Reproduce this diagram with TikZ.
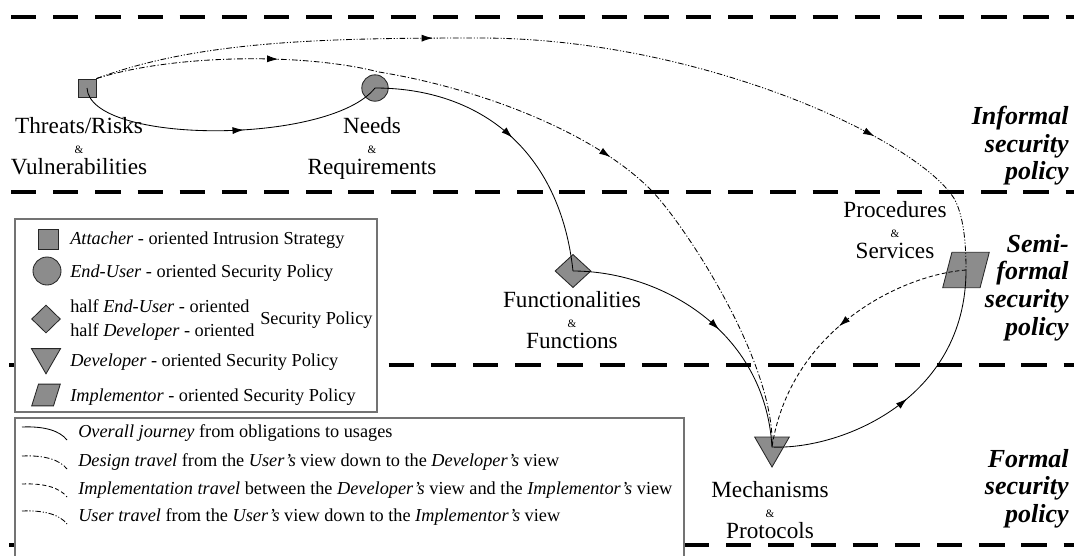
\documentclass[tikz,border=0pt]{standalone}
\usepackage{fontspec}
\setmainfont{Liberation Serif}
\usetikzlibrary{positioning, arrows.meta, shapes.geometric, decorations.markings}
\definecolor{nodegray}{RGB}{140,140,140}

\begin{document}
\begin{tikzpicture}[
                x=0.025cm, y=-0.025cm,
                divider/.style={line width=3.5pt, dash pattern=on 18pt off 12pt},
                shp/.style={draw=black!85, fill=nodegray, line width=0.6pt, inner sep=0pt},
                tri/.style={shp, regular polygon, regular polygon sides=3, shape border rotate=180},
                slot/.style={inner sep=0pt, minimum width=#1},
                lbl/.style={align=center, inner sep=0pt, anchor=north, font=\fontsize{16.5}{14.5}\selectfont},
                lvl/.style={align=right, inner sep=0pt, anchor=north east, font=\bfseries\itshape\fontsize{18.5}{19.6}\selectfont},
                leg/.style={anchor=west, inner sep=0pt, font=\fontsize{13}{17}\selectfont},
                legbox/.style={draw=black!55, line width=0.8pt, fill=white},
                journey/.style={line width=0.6pt},
                design/.style={line width=0.6pt, dash pattern=on 4pt off 1.5pt on 0.8pt off 1.5pt},
                impl/.style={line width=0.6pt, dash pattern=on 3pt off 1.8pt},
                usertr/.style={line width=0.6pt, dash pattern=on 4pt off 1.3pt on 0.8pt off 1.3pt on 0.8pt off 1.3pt},
                midtip/.style={decoration={markings, mark=at position #1 with {\arrow{Latex[length=8pt,width=5pt]}}}, postaction={decorate}},
                twotips/.style 2 args={decoration={markings,
                    mark=at position #1 with {\arrow{Latex[length=8pt,width=5pt]}},
                    mark=at position #2 with {\arrow{Latex[length=8pt,width=5pt]}}}, postaction={decorate}}
            ]
            \useasboundingbox (0,0) rectangle (1074,555);
            \clip (0,0) rectangle (1074,555);
            \draw[divider] (11,17) -- (1074,17);
            \draw[divider] (11,192) -- (1074,192);
            \draw[divider] (9,365) -- (1074,365);
            \draw[divider] (9,545) -- (1074,545);
            \draw[legbox] (15,219) rectangle (377,412);
            \draw[legbox] (15,418) rectangle (684,570);

            \node[shp, rectangle, minimum size=0.45cm] (thr) at (87,88) {};
            \node[shp, circle, minimum size=0.66cm]    (need) at (375,88) {};
            \node[shp, diamond, minimum width=0.9cm, minimum height=0.83cm] (func) at (573,271) {};
            \node[tri, minimum size=1cm]                (mech) at (772,447) {};
            \node[slot=1.15cm, minimum height=0.87cm] (proc) at (966,270) {};
            \draw[shp] (proc.south west) -- ([xshift=-0.23cm]proc.south east) -- (proc.north east) -- ([xshift=0.23cm]proc.north west) -- cycle;

            \node[lbl] (thrlbl)  at (79,117)  {Threats/Risks\\{\fontsize{8}{8}\selectfont\&}\\Vulnerabilities};
            \node[lbl] (needlbl) at (372,117) {Needs\\{\fontsize{8}{8}\selectfont\&}\\Requirements};
            \node[lbl] (funclbl) at (572,291) {Functionalities\\{\fontsize{8}{8}\selectfont\&}\\Functions};
            \node[lbl] (proclbl) at (895,201) {Procedures\\{\fontsize{8}{8}\selectfont\&}\\Services};
            \node[lbl] (mechlbl) at (770,481) {Mechanisms\\{\fontsize{8}{8}\selectfont\&}\\Protocols};

            \node[lvl] (informal) at (1069,106) {Informal\\security\\policy};
            \node[lvl] (semi)     at (1069,234) {Semi-\\formal\\security\\policy};
            \node[lvl] (formal)   at (1069,449) {Formal\\security\\policy};

            \draw[journey, midtip=0.55] (thr.center) .. controls (90,145) and (330,145) .. (need.center);
            \draw[journey, midtip=0.5] (need.center) .. controls (480,88) and (560,150) .. (func.center);
            \draw[journey, midtip=0.55] (func.center) .. controls (660,271) and (765,330) .. (mech.center);
            \draw[journey, midtip=0.5] (mech.center) .. controls (840,450) and (966,400) .. (proc.center);
            \draw[design, twotips={0.21}{0.61}] (thr.north east) .. controls (170,55) and (300,52) .. (379,72)
                .. controls (490,90) and (610,140) .. (660,200) .. controls (700,248) and (775,370) .. (mech.center);
            \draw[usertr, twotips={0.35}{0.82}] (thr.north east) .. controls (200,40) and (330,38) .. (480,38)
                .. controls (700,38) and (920,140) .. (955,200) .. controls (965,220) and (966,250) .. (proc.center);
            \draw[impl, midtip=0.5] (proc.center) .. controls (900,275) and (790,330) .. (mech.center);

            \node[shp, rectangle, minimum size=0.5cm] (keysq) at (48,239) {};
            \node[shp, circle, minimum size=0.7cm] (keyci) at (47,271) {};
            \node[shp, diamond, minimum width=0.72cm, minimum height=0.7cm] (keydi) at (46,319) {};
            \node[tri, minimum size=0.84cm] (keytr) at (46,357) {};
            \node[slot=0.7cm, minimum height=0.53cm] (keypa) at (46,395) {};
            \draw[shp] (keypa.south west) -- ([xshift=-0.17cm]keypa.south east) -- (keypa.north east) -- ([xshift=0.17cm]keypa.north west) -- cycle;
            \node[leg] (keysqt) at (70,240) {\textit{Attacher} - oriented Intrusion Strategy};
            \node[leg] (keycit) at (70,273) {\textit{End-User} - oriented Security Policy};
            \node[leg, align=left] (keydit) at (70,320) {half \textit{End-User} - oriented\\half \textit{Developer} - oriented};
            \node[leg] (keydip) at (260,320) {Security Policy};
            \node[leg] (keytrt) at (70,362) {\textit{Developer} - oriented Security Policy};
            \node[leg] (keypat) at (70,397) {\textit{Implementor} - oriented Security Policy};

            \coordinate (s1a) at (22,427); \coordinate (s1b) at (67,440);
            \coordinate (s2a) at (22,456); \coordinate (s2b) at (67,469);
            \coordinate (s3a) at (22,484); \coordinate (s3b) at (67,497);
            \coordinate (s4a) at (22,511); \coordinate (s4b) at (67,524);
            \draw[journey] (s1a) .. controls (45,426) and (60,431) .. (s1b);
            \draw[design]  (s2a) .. controls (45,455) and (60,460) .. (s2b);
            \draw[impl]    (s3a) .. controls (45,483) and (60,488) .. (s3b);
            \draw[usertr]  (s4a) .. controls (45,510) and (60,515) .. (s4b);
            \node[leg] (trv1) at (78,433) {\textit{Overall journey} from obligations to usages};
            \node[leg] (trv2) at (78,462) {\textit{Design travel} from the \textit{User's} view down to the \textit{Developer's} view};
            \node[leg] (trv3) at (78,490) {\textit{Implementation travel} between the \textit{Developer's} view and the \textit{Implementor's} view};
            \node[leg] (trv4) at (78,517) {\textit{User travel} from the \textit{User's} view down to the \textit{Implementor's} view};
        \end{tikzpicture}
\end{document}
